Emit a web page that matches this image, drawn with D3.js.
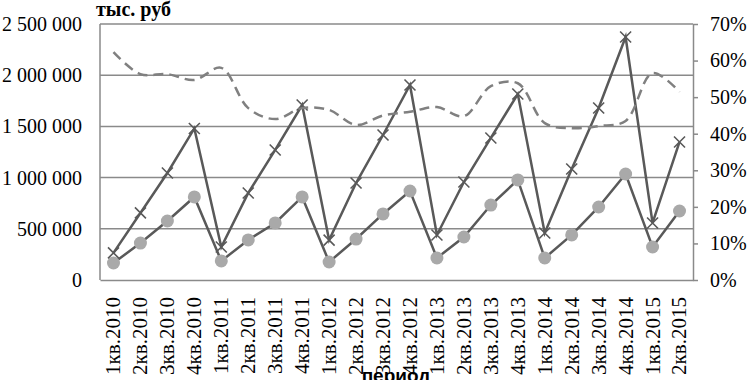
<!DOCTYPE html>
<html>
<head>
<meta charset="utf-8">
<script src="https://cdn.jsdelivr.net/npm/d3@7"></script>
<style>
    body { margin: 0; background: #fff; }
    svg { display: block; font-family: "Liberation Serif", "Times New Roman", serif; }
    .axis text { font-family: "Liberation Serif", "Times New Roman", serif; font-size: 20px; fill: #000; }
    .x-axis text { font-size: 21px; }
</style>
</head>
<body>
<div id="chart"></div>
<script>
// ---- Data ----
const categories = [
    "1кв.2010", "2кв.2010", "3кв.2010", "4кв.2010",
    "1кв.2011", "2кв.2011", "3кв.2011", "4кв.2011",
    "1кв.2012", "2кв.2012", "3кв.2012", "4кв.2012",
    "1кв.2013", "2кв.2013", "3кв.2013", "4кв.2013",
    "1кв.2014", "2кв.2014", "3кв.2014", "4кв.2014",
    "1кв.2015", "2кв.2015"
];

// X markers, тыс. руб
const seriesCross = [
    265000, 655000, 1045000, 1480000,
    322000, 850000, 1270000, 1709000,
    390000, 947000, 1416000, 1904000,
    440000, 957000, 1387000, 1816000,
    459000, 1084000, 1680000, 2373000,
    557000, 1348000
];

// circle markers, тыс. руб
const seriesCircle = [
    166000, 361000, 576000, 811000,
    186000, 391000, 557000, 811000,
    176000, 400000, 645000, 869000,
    215000, 420000, 732000, 977000,
    215000, 440000, 713000, 1035000,
    322000, 674000
];

// dashed line, share (right axis)
const seriesShare = [
    0.623, 0.563, 0.563, 0.547,
    0.580, 0.470, 0.440, 0.470,
    0.465, 0.424, 0.450, 0.460,
    0.473, 0.448, 0.530, 0.538,
    0.429, 0.415, 0.421, 0.435,
    0.566, 0.514
];

const leftTicks = [0, 500000, 1000000, 1500000, 2000000, 2500000];
const rightTicks = [0, 0.1, 0.2, 0.3, 0.4, 0.5, 0.6, 0.7];

// ---- Layout ----
const width = 748;
const height = 380;
const plot = { left: 100, right: 693, top: 24, bottom: 280 };

const gridColor = "#8a8a8a";
const darkLine = "#595959";

const svg = d3.select("#chart")
    .append("svg")
    .attr("width", width)
    .attr("height", height);

const xScale = d3.scaleBand()
    .domain(categories)
    .range([plot.left, plot.right])
    .padding(0);

const yLeft = d3.scaleLinear()
    .domain([0, 2500000])
    .range([plot.bottom, plot.top]);

const yRight = d3.scaleLinear()
    .domain([0, 0.7])
    .range([plot.bottom, plot.top]);

const cx = d => xScale(d) + xScale.bandwidth() / 2;

// ---- Gridlines ----
svg.append("g")
    .attr("class", "grid")
    .selectAll("line")
    .data(leftTicks.slice(1))
    .join("line")
    .attr("x1", plot.left)
    .attr("x2", plot.right)
    .attr("y1", d => yLeft(d))
    .attr("y2", d => yLeft(d))
    .attr("stroke", gridColor)
    .attr("stroke-width", 1.5);

// left border of plot area
svg.append("line")
    .attr("x1", plot.left).attr("x2", plot.left)
    .attr("y1", plot.top).attr("y2", plot.bottom)
    .attr("stroke", gridColor)
    .attr("stroke-width", 1.5);

// ---- Left axis ----
const leftAxis = svg.append("g")
    .attr("class", "axis y-axis")
    .attr("transform", `translate(${plot.left},0)`)
    .call(d3.axisLeft(yLeft)
        .tickValues(leftTicks)
        .tickSize(0)
        .tickPadding(18)
        .tickFormat(d => d3.format(",")(d).replace(/,/g, " ")));
leftAxis.select(".domain").remove();

// ---- Right axis ----
const rightAxis = svg.append("g")
    .attr("class", "axis y-axis-right")
    .attr("transform", `translate(${plot.right},0)`)
    .call(d3.axisRight(yRight)
        .tickValues(rightTicks)
        .tickSizeInner(5)
        .tickSizeOuter(0)
        .tickPadding(12)
        .tickFormat(d3.format(".0%")));
rightAxis.selectAll("line, path").attr("stroke", gridColor).attr("stroke-width", 1.5);

// ---- Bottom axis ----
const bottomAxis = svg.append("g")
    .attr("class", "axis x-axis")
    .attr("transform", `translate(0,${plot.bottom})`)
    .call(d3.axisBottom(xScale).tickSize(0).tickSizeOuter(0));
bottomAxis.select(".domain").attr("stroke", gridColor).attr("stroke-width", 1.5);
bottomAxis.selectAll("text")
    .attr("transform", "rotate(-90)")
    .attr("text-anchor", "end")
    .attr("x", -17)
    .attr("y", 0)
    .attr("dy", "0.33em");

// ---- Lines ----
const shareLine = d3.line()
    .x((d, i) => cx(categories[i]))
    .y(d => yRight(d))
    .curve(d3.curveCatmullRom);

const valueLine = d3.line()
    .x((d, i) => cx(categories[i]))
    .y(d => yLeft(d));

// ---- Circle series ----
svg.append("path")
    .datum(seriesCircle)
    .attr("fill", "none")
    .attr("stroke", darkLine)
    .attr("stroke-width", 2.5)
    .attr("d", valueLine);

svg.selectAll(".dot")
    .data(seriesCircle)
    .join("circle")
    .attr("class", "dot")
    .attr("cx", (d, i) => cx(categories[i]))
    .attr("cy", d => yLeft(d))
    .attr("r", 6.5)
    .attr("fill", "#a9a9a9");

// ---- Cross series ----
svg.append("path")
    .datum(seriesCross)
    .attr("fill", "none")
    .attr("stroke", darkLine)
    .attr("stroke-width", 2.5)
    .attr("d", valueLine);

const s = 5.5;
svg.selectAll(".cross")
    .data(seriesCross)
    .join("path")
    .attr("class", "cross")
    .attr("transform", (d, i) => `translate(${cx(categories[i])},${yLeft(d)})`)
    .attr("d", `M${-s},${-s}L${s},${s}M${-s},${s}L${s},${-s}`)
    .attr("stroke", darkLine)
    .attr("stroke-width", 1.6)
    .attr("fill", "none");

// ---- Dashed series (right axis) ----
svg.append("path")
    .datum(seriesShare)
    .attr("fill", "none")
    .attr("stroke", "#808080")
    .attr("stroke-width", 2.5)
    .attr("stroke-dasharray", "10,6")
    .attr("d", shareLine);

// ---- Titles ----
svg.append("text")
    .attr("x", 96)
    .attr("y", 16)
    .style("font-size", "20px")
    .style("font-weight", "bold")
    .text("тыс. руб");

svg.append("text")
    .attr("x", 396)
    .attr("y", 382)
    .attr("text-anchor", "middle")
    .style("font-family", "'Liberation Sans', Arial, sans-serif")
    .style("font-size", "19px")
    .style("font-weight", "bold")
    .text("период");
</script>
</body>
</html>
